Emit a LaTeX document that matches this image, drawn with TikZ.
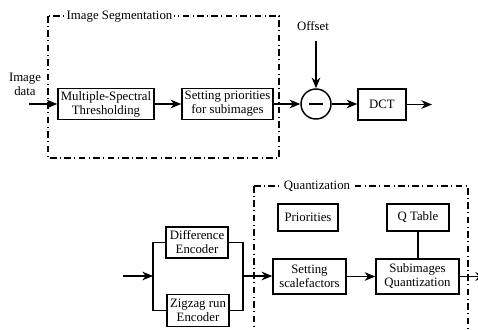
\documentclass[tikz,border=0pt]{standalone}
\usepackage{fontspec}
\setmainfont{Liberation Serif}
\usetikzlibrary{arrows.meta}
\begin{document}
\begin{tikzpicture}[x=0.75pt,y=-0.75pt,
  font=\fontsize{9.6}{10.5}\selectfont,
  blk/.style={draw,line width=1.1pt,inner sep=0pt,align=center},
  arr/.style={line width=0.9pt,-{Stealth[length=8pt,width=6.5pt,inset=2.5pt]}},
  ln/.style={line width=0.9pt},
  dd/.style={line width=0.9pt,dash pattern=on 5pt off 2.5pt on 0.8pt off 2.5pt},
  lbl/.style={fill=white,inner sep=1.5pt}]
\useasboundingbox (0,0) rectangle (478,329);
% top group
\draw[dd] (48,16) rectangle (279,158);
\node[lbl] (segl) at (119.5,17) {Image Segmentation};
\node[align=center] (imd) at (25,84) {Image\\data};
\coordinate (in1) at (29,104);
\node[blk,minimum width=96*0.75pt,minimum height=31*0.75pt] (msp) at (106,104) {Multiple-Spectral\\Thresholding};
\node[blk,minimum width=91*0.75pt,minimum height=31*0.75pt] (spr) at (227.5,104) {Setting priorities\\for subimages};
\node[circle,draw,line width=1.1pt,minimum size=30*0.75pt,inner sep=0pt] (sub) at (316,104) {};
\draw[line width=1.1pt] (309,104) -- (323,104);
\node (off) at (313,26) {Offset};
\coordinate (offs) at (316,41);
\node[blk,minimum width=48*0.75pt,minimum height=31*0.75pt] (dct) at (382,104.5) {DCT};
\coordinate (out1) at (432,104.5);
\draw[arr] (in1) -- (msp.west);
\draw[arr] (msp) -- (spr);
\draw[arr] (spr.east) -- (sub.west);
\draw[arr] (offs) -- (sub.north);
\draw[arr] (sub.east) -- (sub.east -| dct.west);
\draw[arr] (dct.east) -- (out1);
% bottom group
\draw[dd] (254,186) -- (468,186) -- (468,340);
\draw[dd] (254,186) -- (254,340);
\node[lbl] (ql) at (317,186) {Quantization};
\node[blk,minimum width=62*0.75pt,minimum height=31*0.75pt] (dif) at (197,242.5) {Difference\\Encoder};
\node[blk,minimum width=62*0.75pt,minimum height=32*0.75pt] (zig) at (198,310.5) {Zigzag run\\Encoder};
\coordinate (in2) at (123,276);
\coordinate (sl) at (153,276);
\coordinate (sr) at (243,276);
\node[blk,minimum width=73*0.75pt,minimum height=35*0.75pt] (scf) at (309.5,276.5) {Setting\\scalefactors};
\node[blk,minimum width=83*0.75pt,minimum height=35*0.75pt] (sq) at (417.5,276.5) {Subimages\\Quantization};
\node[blk,minimum width=60*0.75pt,minimum height=27*0.75pt] (pri) at (308,217.5) {Priorities};
\node[blk,minimum width=62*0.75pt,minimum height=27*0.75pt] (qt) at (418,217.5) {Q Table};
\coordinate (out2) at (486,276.5);
\draw[arr] (in2) -- (sl);
\draw[ln] (dif.west) -| (sl) |- (zig.west);
\draw[ln] (dif.east) -| (sr) |- (zig.east);
\draw[arr] (sr) -- (sr -| scf.west);
\draw[arr] (scf) -- (sq);
\draw[ln] (qt.south) -- (qt.south |- sq.north);
\draw[arr] (sq.east) -- (out2);
\end{tikzpicture}
\end{document}
